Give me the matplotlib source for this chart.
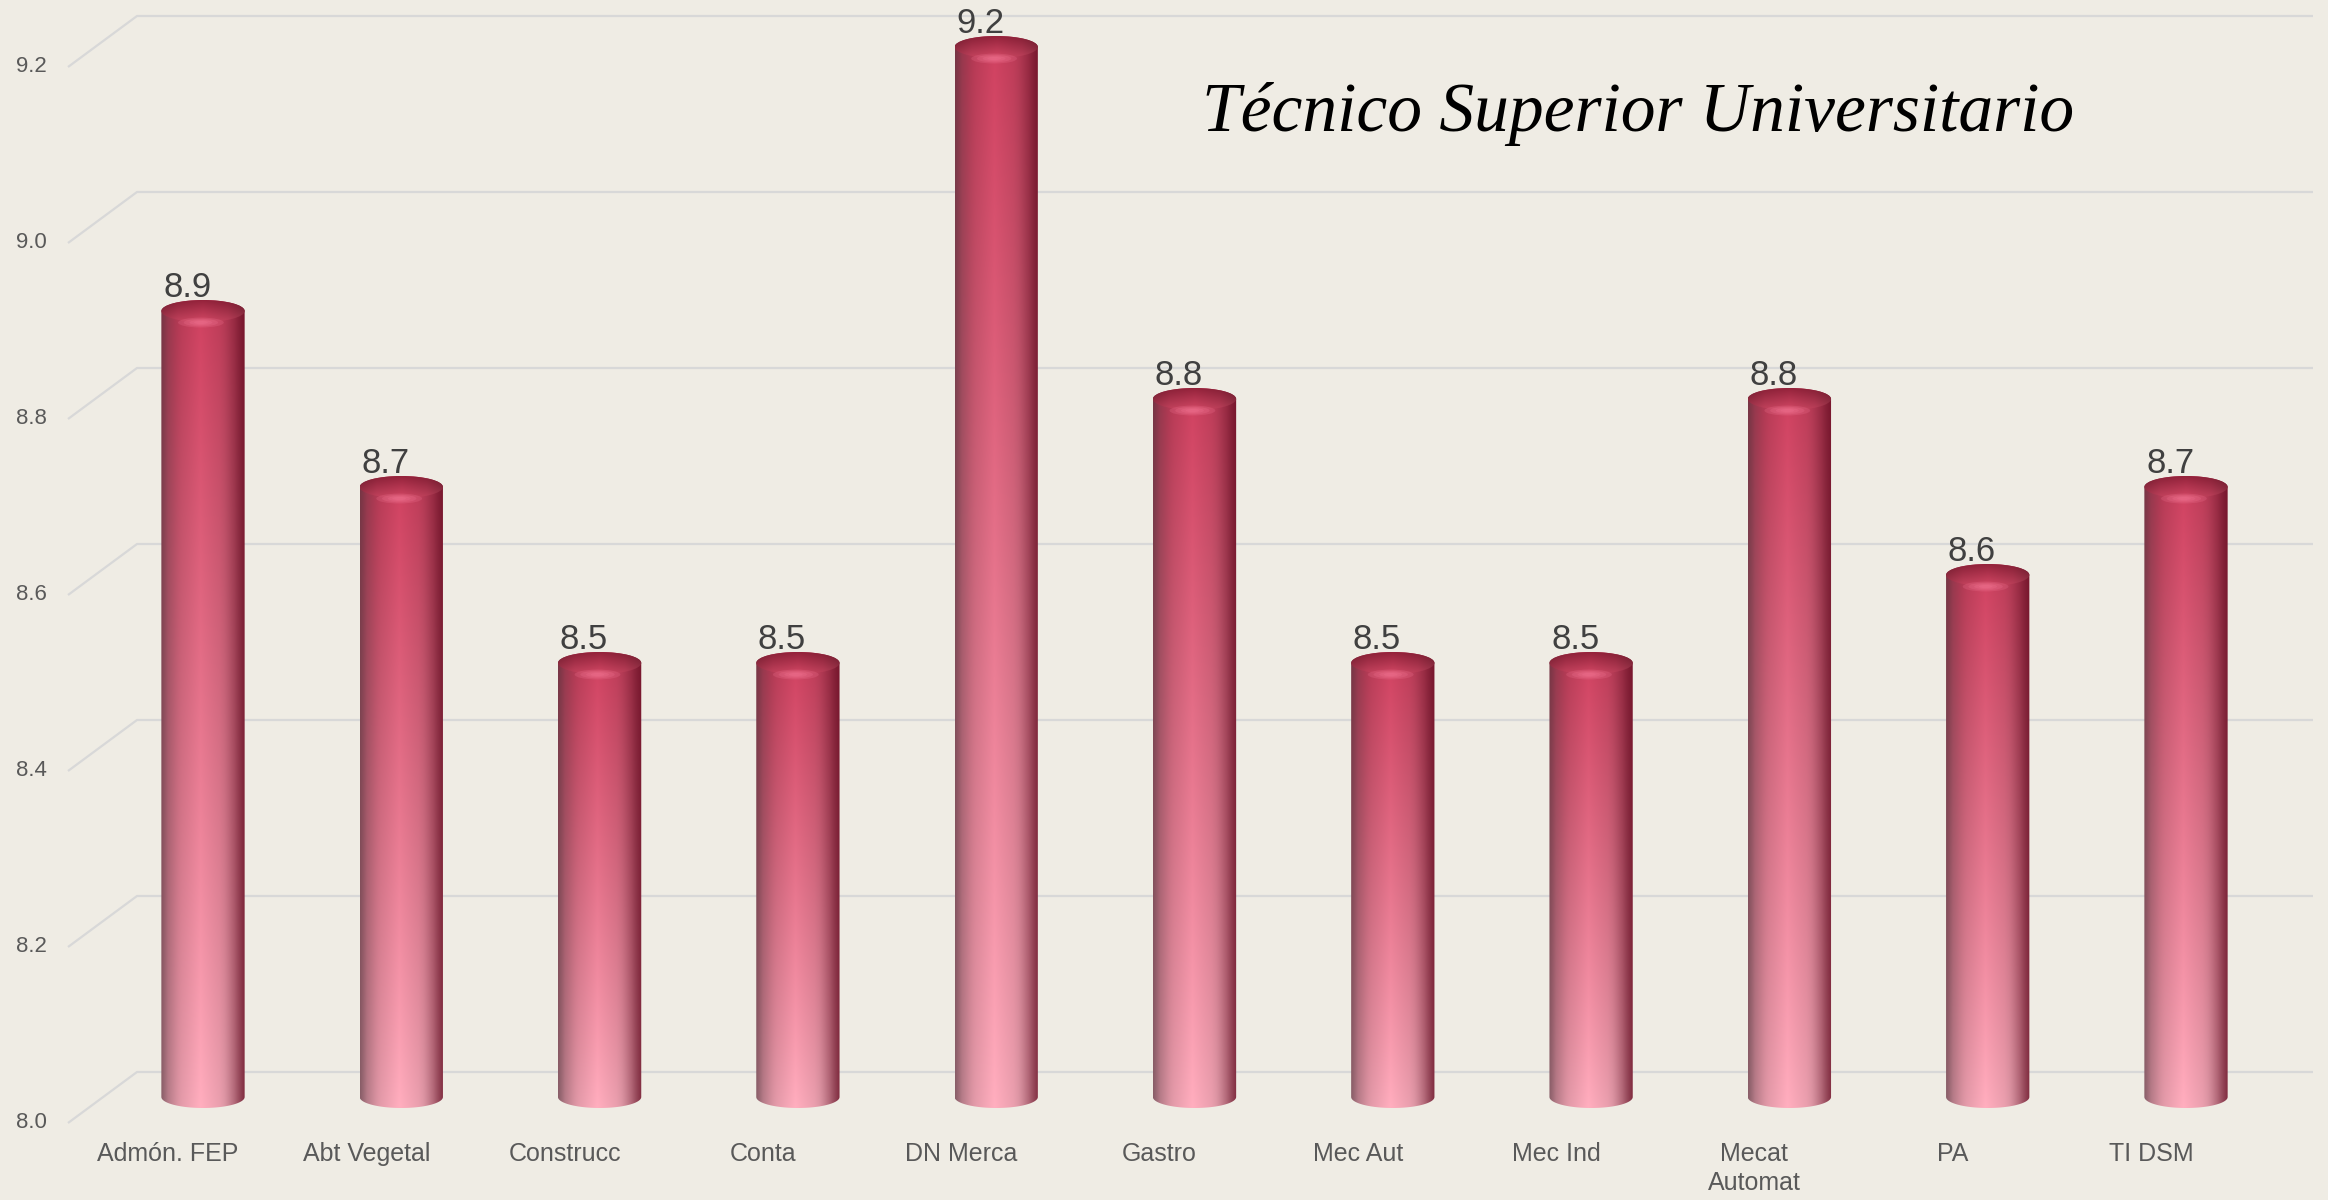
import matplotlib
matplotlib.use("Agg")
import matplotlib.pyplot as plt
import matplotlib.patches as mpatches
from matplotlib.path import Path
import numpy as np

# datos
carreras = ['Admón. FEP', 'Abt Vegetal', 'Construcc', 'Conta', 'DN Merca', 'Gastro',
            'Mec Aut', 'Mec Ind', 'Mecat\nAutomat', 'PA', 'TI DSM']
promedios = [8.9, 8.7, 8.5, 8.5, 9.2, 8.8, 8.5, 8.5, 8.8, 8.6, 8.7]
ticks_y = [8.0, 8.2, 8.4, 8.6, 8.8, 9.0, 9.2]
titulo = 'Técnico Superior Universitario'

plt.rcParams['font.family'] = ['Liberation Sans', 'DejaVu Sans']

W, H = 2328, 1200
fondo = '#efece4'
fig = plt.figure(figsize=(W / 100, H / 100), dpi=100, facecolor=fondo)

# escala: 1 categoria = 198.3 px, 1 unidad = 880 px
px_x, px_y = 198.3, 880.0
x_ini, y_ini = 203.0, 1200 - 1097.0     # centro de la primera barra, base 8.0
xlim = (-0.7, 10.7)
ylim = (7.92, 9.24)
ax = fig.add_axes([(x_ini + xlim[0] * px_x) / W,
                   (y_ini + (ylim[0] - 8.0) * px_y) / H,
                   (xlim[1] - xlim[0]) * px_x / W,
                   (ylim[1] - ylim[0]) * px_y / H])
ax.set_facecolor(fondo)
ax.axis('off')

# perspectiva de la pared del fondo
dy_atras = 25 / px_y
dy_frente = 26 / px_y
x_frente = (68 - x_ini) / px_x
x_atras = (137 - x_ini) / px_x
x_fin = (2313 - x_ini) / px_x
for v in ticks_y:
    ax.plot([x_frente, x_atras, x_fin], [v - dy_frente, v + dy_atras, v + dy_atras],
            color='#d8d8d8', lw=1.6, zorder=1, solid_capstyle='butt')
    ax.text((47 - x_ini) / px_x, v - dy_frente, f'{v:.1f}', ha='right', va='center',
            fontsize=16, color='#595959', clip_on=False)


def textura_cilindro(nf=240, nc=90):
    s = np.linspace(0, 1, nc)
    t = np.linspace(0, 1, nf)[:, None, None]
    abajo = np.array([247, 168, 184]) / 255
    arriba = np.array([200, 62, 92]) / 255
    base = abajo + (arriba - abajo) * t ** 0.9
    f = np.interp(s, [0, 0.08, 0.25, 0.47, 0.7, 0.88, 1],
                  [0.62, 0.8, 0.93, 1.04, 0.95, 0.8, 0.6])
    img = base * f[None, :, None]
    wl = np.clip((0.22 - s) / 0.22, 0, 1) ** 1.5 * 0.35
    gris = np.array([110, 80, 90]) / 255
    img = img * (1 - wl[None, :, None]) + gris * wl[None, :, None]
    wr = np.clip((s - 0.75) / 0.25, 0, 1) ** 1.5 * 0.62
    oscuro = np.array([120, 12, 38]) / 255
    img = img * (1 - wr[None, :, None]) + oscuro * wr[None, :, None]
    return np.clip(img, 0, 1)


def textura_tapa(nf=40, nc=90):
    s = np.linspace(0, 1, nc)
    t = np.linspace(0, 1, nf)[:, None, None]
    frente = np.array([205, 70, 98]) / 255
    atras = np.array([145, 34, 58]) / 255
    base = frente + (atras - frente) * t
    f = np.interp(s, [0, 0.2, 0.5, 0.8, 1], [0.8, 0.95, 1.03, 0.92, 0.75])
    return np.clip(base * f[None, :, None], 0, 1)


cuerpo = textura_cilindro()
tapa = textura_tapa()
ancho = 0.42
a = ancho / 2
b = 11 / px_y
baja_tapa = 6 / px_y
th = np.linspace(0, np.pi, 60)

for i, v in enumerate(promedios):
    yb = 8.0
    yt = v - baja_tapa
    inf = np.column_stack([i + a * np.cos(th + np.pi), yb + b * np.sin(th + np.pi)])
    sup = np.column_stack([i + a * np.cos(th), yt + b * np.sin(th)])
    verts = np.vstack([inf, sup, inf[:1]])
    silueta = mpatches.PathPatch(Path(verts, closed=True), transform=ax.transData)
    im = ax.imshow(cuerpo, extent=(i - a, i + a, yb - b, yt + b), origin='lower',
                   aspect='auto', interpolation='bilinear', zorder=3)
    im.set_clip_path(silueta)

    elip = mpatches.Ellipse((i, yt), 2 * a, 2 * b, transform=ax.transData)
    im2 = ax.imshow(tapa, extent=(i - a, i + a, yt - b, yt + b), origin='lower',
                    aspect='auto', interpolation='bilinear', zorder=4)
    im2.set_clip_path(elip)
    # brillo suave en el borde frontal de la tapa
    for k, esc in enumerate([1.0, 0.75, 0.5, 0.3]):
        ax.add_patch(mpatches.Ellipse((i - 0.05 * a, yt - 1.05 * b), 1.1 * a * esc,
                                      0.9 * b * esc, facecolor='#f47a98',
                                      edgecolor='none', alpha=0.22, zorder=5))
    ax.text(i - 0.08, yt + b + 3 / px_y, f'{v:.1f}', ha='center', va='baseline',
            fontsize=25, color='#404040', zorder=6)
    ax.text(i - 35 / px_x, 8.0 - 45 / px_y, carreras[i], ha='center', va='top',
            fontsize=18, color='#595959', linespacing=1.25, clip_on=False)

ax.set_xlim(*xlim)
ax.set_ylim(*ylim)

fig.text(1638 / W, 1 - 131 / H, titulo, ha='center', va='baseline', fontsize=50,
         family=['Liberation Serif', 'DejaVu Serif'], style='italic', color='black')

fig.savefig('out.png', dpi=100, facecolor=fondo)
